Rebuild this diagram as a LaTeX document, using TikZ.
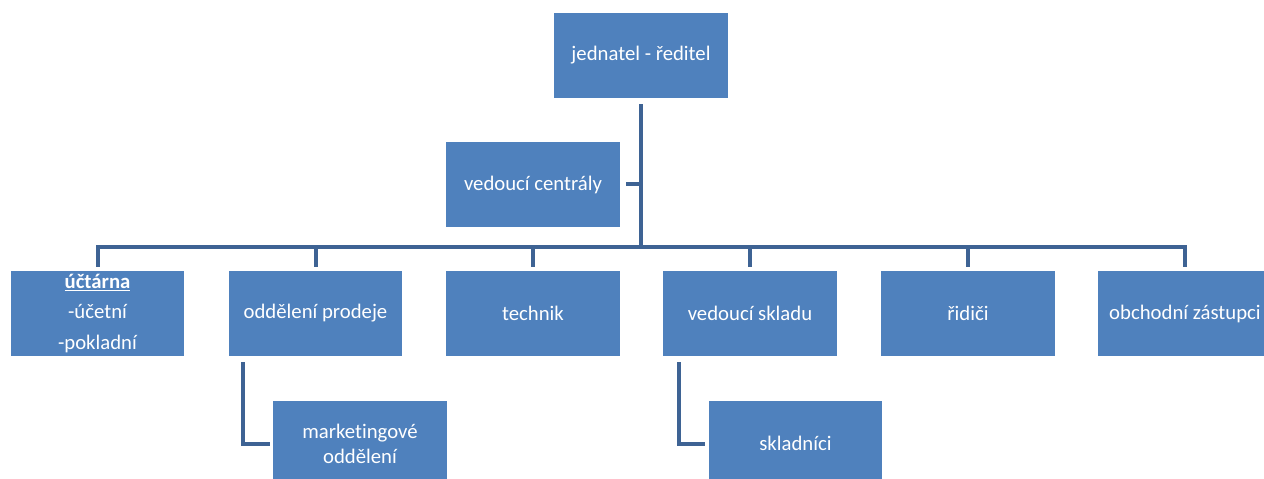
\documentclass[tikz,border=0pt]{standalone}
\usepackage{fontspec}
\setmainfont[Ligatures=NoCommon]{Carlito}
\usetikzlibrary{positioning, calc}
\definecolor{boxblue}{RGB}{79,129,189}
\definecolor{lineblue}{RGB}{62,99,148}

\begin{document}
\begin{tikzpicture}[x=0.02cm, y=-0.02cm,
  unit/.style={rectangle, fill=boxblue, text=white, minimum width=3.48cm, minimum height=1.7cm, inner sep=0pt, align=center, font=\fontsize{11.8}{14.2}\selectfont},
  link/.style={draw=lineblue, line width=0.08cm}]
\useasboundingbox (0,0) rectangle (1264,479);

% Management
\node[unit] (boss) at (641,55.5) {jednatel - ředitel};
\node[unit] (centr) at (533,184.5) {vedoucí centrály};

% Departments
\node[unit, font=\fontsize{11.8}{17.6}\selectfont] (uct) at (97.5,313.5) {\underline{\textbf{účtárna}}\\-účetní\\-pokladní};
\node[unit] (prodej) at (315.5,313.5) {oddělení prodeje};
\node[unit] (tech) at (533,313.5) {technik};
\node[unit] (sklad) at (750,313.5) {vedoucí skladu};
\node[unit] (ridic) at (968,313.5) {řidiči};
\node[unit] (zast) at (1185,313.5) {obchodní zástupci};

% Sub-units
\node[unit] (market) at (360,443.5) {marketingové\\oddělení};
\node[unit] (skladnik) at (795.5,443.5) {skladníci};

% Connectors
\coordinate (bus) at (641,247);
\draw[link, shorten <=0.12cm] (boss.south) -- (bus);
\draw[link, shorten >=0.12cm] (boss.south |- centr.east) -- (centr.east);
\draw[link, shorten <=0.08cm, shorten >=0.08cm] (uct.north) -- (uct.north |- bus) -- (zast.north |- bus) -- (zast.north);
\foreach \n in {prodej, tech, sklad, ridic}
  \draw[link, shorten >=0.08cm] (\n.north |- bus) -- (\n.north);
\draw[link, shorten <=0.12cm, shorten >=0.06cm] ([xshift=0.3cm]prodej.south west) -- ([xshift=0.3cm]prodej.south west |- market.west) -- (market.west);
\draw[link, shorten <=0.12cm, shorten >=0.06cm] ([xshift=0.32cm]sklad.south west) -- ([xshift=0.32cm]sklad.south west |- skladnik.west) -- (skladnik.west);
\end{tikzpicture}
\end{document}
